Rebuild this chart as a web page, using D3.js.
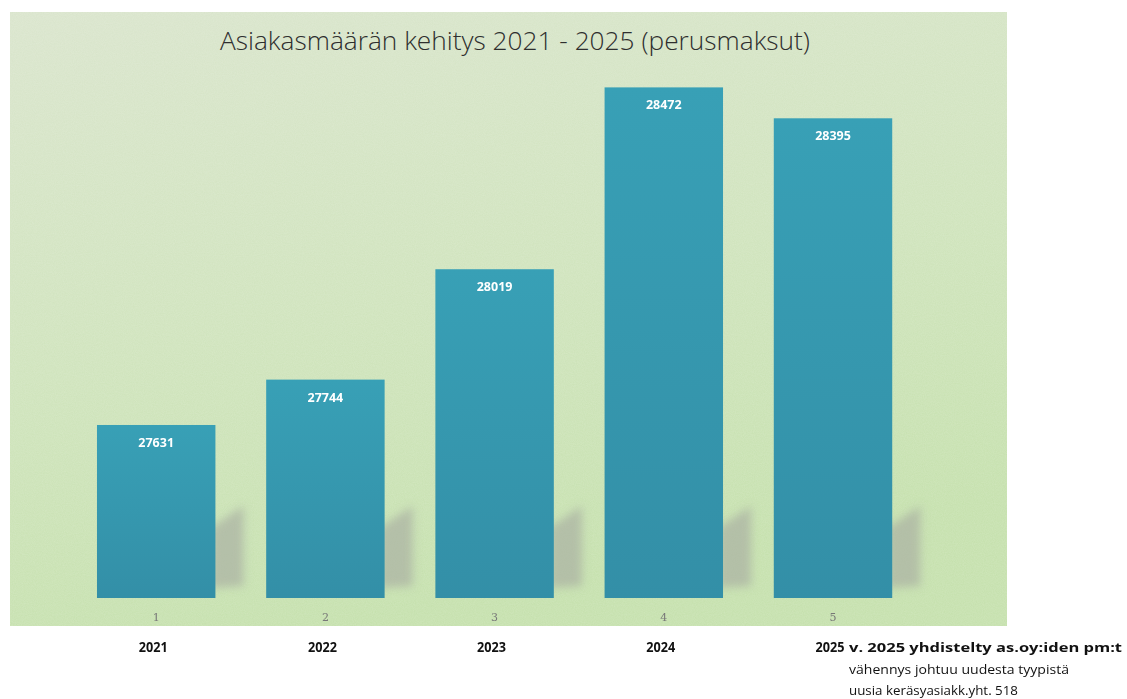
<!DOCTYPE html>
<html>
<head>
<meta charset="utf-8">
<script src="https://cdn.jsdelivr.net/npm/d3@7"></script>
<style>
  html, body { margin: 0; padding: 0; background: #fff; }
  svg { display: block; }
</style>
</head>
<body>
<svg id="chart" width="1127" height="699"></svg>
<script>
const years = ['2021', '2022', '2023', '2024', '2025']
const indexLabels = ['1', '2', '3', '4', '5']
const customers = [27631, 27744, 28019, 28472, 28395]
const noteLines = [
  'v. 2025 yhdistelty as.oy:iden pm:t',
  'vähennys johtuu uudesta tyypistä',
  'uusia keräsyasiakk.yht. 518'
]

const panel = { x: 10, y: 12, w: 997, h: 614 }
const baseY = 598

const svg = d3.select('#chart')
const defs = svg.append('defs')

const bg = defs.append('linearGradient')
  .attr('id', 'bg').attr('x1', 0).attr('y1', 0).attr('x2', 0.3).attr('y2', 1)
bg.append('stop').attr('offset', '0%').attr('stop-color', '#dae5cd')
bg.append('stop').attr('offset', '55%').attr('stop-color', '#d0e4bd')
bg.append('stop').attr('offset', '100%').attr('stop-color', '#c6e1ae')

const barGrad = defs.append('linearGradient')
  .attr('id', 'barGrad').attr('x1', 0).attr('y1', 0).attr('x2', 0).attr('y2', 1)
barGrad.append('stop').attr('offset', '0%').attr('stop-color', '#38a0b6')
barGrad.append('stop').attr('offset', '100%').attr('stop-color', '#338fa7')

defs.append('filter').attr('id', 'blur')
  .attr('x', '-30%').attr('y', '-30%').attr('width', '160%').attr('height', '160%')
  .append('feGaussianBlur').attr('stdDeviation', 4)

// speckle like a scanned page
const noise = defs.append('filter').attr('id', 'noise')
noise.append('feTurbulence').attr('type', 'fractalNoise')
  .attr('baseFrequency', 0.9).attr('numOctaves', 2).attr('seed', 3)
noise.append('feColorMatrix').attr('type', 'matrix')
  .attr('values', '0 0 0 0 1  0 0 0 0 1  0 0 0 0 1  0 0 0 0.35 -0.05')

svg.append('rect')
  .attr('x', panel.x).attr('y', panel.y)
  .attr('width', panel.w).attr('height', panel.h)
  .attr('fill', 'url(#bg)')

svg.append('rect')
  .attr('x', panel.x).attr('y', panel.y)
  .attr('width', panel.w).attr('height', panel.h)
  .attr('filter', 'url(#noise)')
  .attr('opacity', 0.5)

const x = d3.scaleBand()
  .domain(years)
  .range([71.6, 917.6])
  .paddingInner(0.3)
  .paddingOuter(0.15)

const y = d3.scaleLinear()
  .domain([27200, 28600])
  .range([baseY, 36])

// title
svg.append('text')
  .attr('x', 515).attr('y', 50)
  .attr('text-anchor', 'middle')
  .attr('font-family', 'Open Sans, sans-serif')
  .attr('font-weight', 300)
  .attr('font-size', 25)
  .attr('fill', '#2e2e2e')
  .attr('textLength', 590)
  .attr('lengthAdjust', 'spacingAndGlyphs')
  .text('Asiakasmäärän kehitys 2021 - 2025 (perusmaksut)')

// soft shadows behind the bars
svg.append('g').attr('filter', 'url(#blur)')
  .selectAll('path')
  .data(customers)
  .join('path')
  .attr('d', (d, i) => {
    const r = x(years[i]) + x.bandwidth()
    return `M${r - 5},${baseY - 10} L${r - 5},${baseY - 70} L${r + 28},${baseY - 92} L${r + 28},${baseY - 12} Z`
  })
  .attr('fill', '#aab0a2')
  .attr('opacity', 0.7)

// bars
svg.append('g')
  .selectAll('rect')
  .data(customers)
  .join('rect')
  .attr('x', (d, i) => x(years[i]))
  .attr('y', d => y(d))
  .attr('width', x.bandwidth())
  .attr('height', d => baseY - y(d))
  .attr('fill', 'url(#barGrad)')

// value labels
svg.append('g')
  .selectAll('text')
  .data(customers)
  .join('text')
  .attr('x', (d, i) => x(years[i]) + x.bandwidth() / 2)
  .attr('y', d => y(d) + 22)
  .attr('text-anchor', 'middle')
  .attr('font-family', 'Open Sans, sans-serif')
  .attr('font-weight', 700)
  .attr('font-size', 12.5)
  .attr('fill', '#ffffff')
  .text(d => d)

// category numbers inside the panel
svg.append('g')
  .selectAll('text')
  .data(indexLabels)
  .join('text')
  .attr('x', (d, i) => x(years[i]) + x.bandwidth() / 2)
  .attr('y', 621)
  .attr('text-anchor', 'middle')
  .attr('font-family', 'DejaVu Serif, serif')
  .attr('font-size', 11)
  .attr('fill', '#777')
  .text(d => d)

// year labels below the panel
svg.append('g')
  .selectAll('text')
  .data(years)
  .join('text')
  .attr('x', d => x(d) + x.bandwidth() / 2 - 3)
  .attr('y', 652)
  .attr('text-anchor', 'middle')
  .attr('font-family', 'Open Sans, sans-serif')
  .attr('font-weight', 700)
  .attr('font-size', 14)
  .attr('fill', '#111')
  .attr('textLength', 29)
  .attr('lengthAdjust', 'spacingAndGlyphs')
  .text(d => d)

// note
svg.append('g')
  .selectAll('text')
  .data(noteLines)
  .join('text')
  .attr('x', 849)
  .attr('y', (d, i) => 652 + i * 21.5)
  .attr('font-family', 'Open Sans, sans-serif')
  .attr('font-weight', (d, i) => i === 0 ? 700 : 400)
  .attr('font-size', 12.5)
  .attr('fill', '#111')
  .attr('textLength', (d, i) => [273, 220, 169][i])
  .attr('lengthAdjust', 'spacingAndGlyphs')
  .text(d => d)
</script>
</body>
</html>
